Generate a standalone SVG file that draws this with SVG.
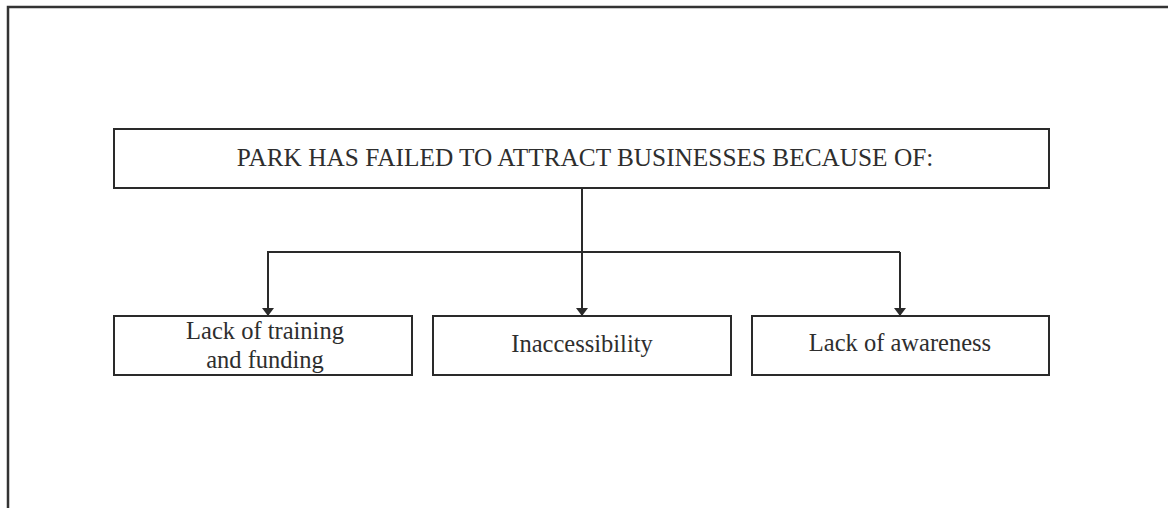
<svg xmlns="http://www.w3.org/2000/svg" width="1168" height="508" viewBox="0 0 1168 508">
  <style>
    .box { fill: #ffffff; stroke: #2a2a2a; stroke-width: 2; }
    .frame { fill: none; stroke: #333333; stroke-width: 2.5; }
    .label { font-family: "Liberation Serif", "Times New Roman", serif; fill: #2e2e2e; text-anchor: middle; }
    .title { font-size: 25.3px; }
    .item { font-size: 24.5px; }
    .wire { fill: none; stroke: #2a2a2a; stroke-width: 2; }
  </style>
  <defs>
    <!-- downward pointing filled triangle head -->
    <marker id="arrow" viewBox="0 0 8 12" refX="8" refY="6" markerWidth="8" markerHeight="12" markerUnits="userSpaceOnUse" orient="auto">
      <path d="M0,0 L8,6 L0,12 Z" fill="#2a2a2a"/>
    </marker>
  </defs>
  <rect width="1168" height="508" fill="#ffffff"/>

  <!-- outer frame: top and left edges -->
  <path class="frame" d="M8,508 L8,7 L1168,7"/>

  <!-- connectors -->
  <g id="connectors">
    <path class="wire" d="M582,188 L582,316" marker-end="url(#arrow)"/>
    <path class="wire" d="M268,316 L268,252 L900,252"/>
    <path class="wire" d="M268,252 L268,316" marker-end="url(#arrow)"/>
    <path class="wire" d="M900,252 L900,316" marker-end="url(#arrow)"/>
  </g>

  <g id="node-main">
    <rect class="box" x="114" y="129" width="935" height="59"/>
    <text class="label title" x="585" y="166">PARK HAS FAILED TO ATTRACT BUSINESSES BECAUSE OF:</text>
  </g>

  <g id="node-training">
    <rect class="box" x="114" y="316" width="298" height="59"/>
    <text class="label item" x="265" y="339">Lack of training</text>
    <text class="label item" x="265" y="368">and funding</text>
  </g>

  <g id="node-access">
    <rect class="box" x="433" y="316" width="298" height="59"/>
    <text class="label item" x="582" y="352">Inaccessibility</text>
  </g>

  <g id="node-awareness">
    <rect class="box" x="752" y="316" width="297" height="59"/>
    <text class="label item" x="900" y="351">Lack of awareness</text>
  </g>
</svg>
